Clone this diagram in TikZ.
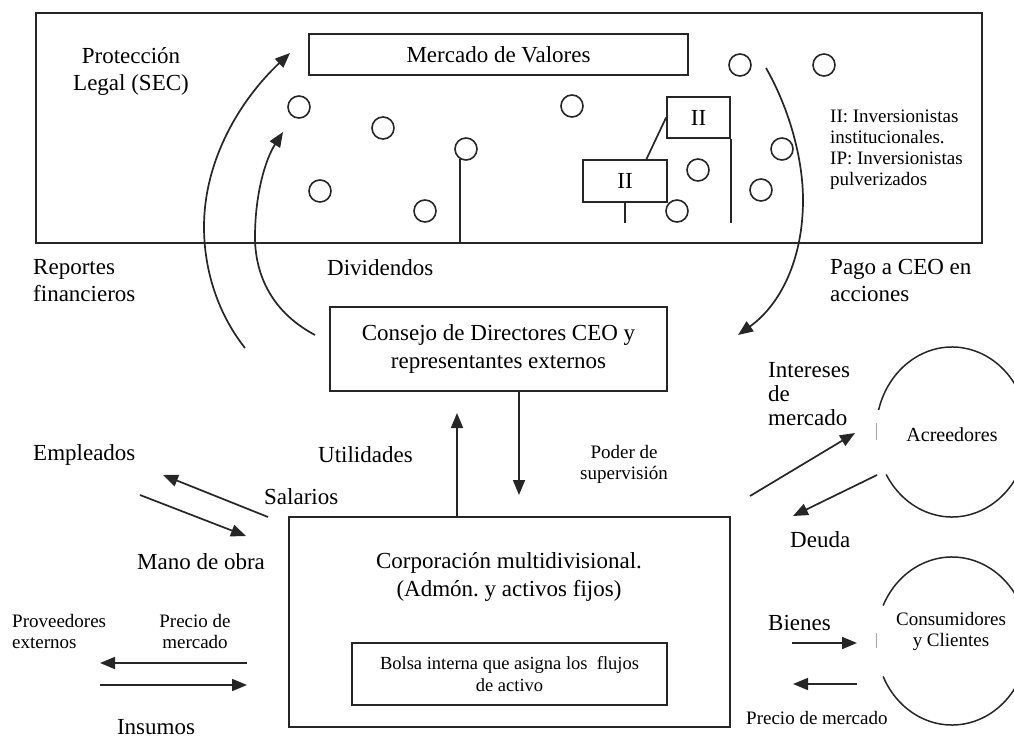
\documentclass[tikz,border=0pt]{standalone}
\usepackage{fontspec}
\setmainfont{Liberation Serif}
\usetikzlibrary{arrows.meta,calc}
\frenchspacing
\begin{document}
\begin{tikzpicture}[x=1pt,y=-1pt,
  big/.style={font=\fontsize{23}{27}\selectfont},
  small/.style={font=\fontsize{19}{21}\selectfont},
  box/.style={draw=black!85, line width=1.8pt, inner sep=0pt, align=center},
  txt/.style={inner sep=0pt, align=left, anchor=west},
  ctxt/.style={inner sep=0pt, align=center},
  dot/.style={draw=black!85, circle, minimum size=22pt, inner sep=0pt, line width=1.6pt},
  arr/.style={-{Triangle[length=15pt,width=12pt]}, line width=1.7pt, black!85},
  ln/.style={line width=1.7pt, black!85},
  oval/.style={line width=1.5pt, black!85}
]
\useasboundingbox (0,0) rectangle (1014,738);

% ---------- stock market frame ----------
\node[box, minimum width=946pt, minimum height=230pt] (frame) at (509,128) {};
\node[box, big, minimum width=379pt, minimum height=41pt] (mercado) at (498.5,54.5) {Mercado de Valores};
\node[ctxt, big] (sec) at (131,71) {Protección\\Legal (SEC)};

% circles (investors)
\node[dot] (c1) at (299,107) {};
\node[dot] (c2) at (383,128) {};
\node[dot] (c3) at (466,149) {};
\node[dot] (c4) at (320,191) {};
\node[dot] (c5) at (425,211) {};
\node[dot] (c6) at (572,106) {};
\node[dot] (c7) at (740,65) {};
\node[dot] (c8) at (824,65) {};
\node[dot] (c9) at (782,149) {};
\node[dot] (c10) at (698,170) {};
\node[dot] (c11) at (761,190) {};
\node[dot] (c12) at (677,211) {};

% institutional investors
\node[box, big, minimum width=63pt, minimum height=41pt] (ii1) at (698.5,117.5) {II};
\node[box, big, minimum width=84pt, minimum height=42pt] (ii2) at (625,181) {II};
\draw[ln] ($(ii2.north west)!0.75!(ii2.north east)$) -- (ii1.west);
\draw[ln] (ii2.south) -- ++(0,20);
\draw[ln] (ii1.south east) -- ++(0,84);
\draw[ln] (c3.240) -- (c3.240 |- frame.south);

\node[txt, small] (legend) at (830,149.5) {II: Inversionistas\\institucionales.\\IP: Inversionistas\\pulverizados};

% ---------- curved flows ----------
\coordinate (repS) at (245,348);
\coordinate (repE) at (290,53);
\coordinate (divS) at (315,335);
\coordinate (divE) at (283,132);
\coordinate (ceoS) at (766,68);
\coordinate (ceoE) at (738,335);
\draw[arr] (repS) .. controls (215,310) and (204,265) .. (204,227) .. controls (204,160) and (240,100) .. (repE);
\draw[arr] (divS) .. controls (268,310) and (255,270) .. (255,237) .. controls (255,195) and (265,160) .. (divE);
\draw[arr] (ceoS) .. controls (790,110) and (803,160) .. (803,200) .. controls (803,260) and (780,305) .. (ceoE);

\node[txt, big] (reportes) at (33,281) {Reportes\\financieros};
\node[txt, big] (dividendos) at (327,268) {Dividendos};
\node[txt, big] (pago) at (830,280) {Pago a CEO en\\acciones};

% ---------- board ----------
\node[box, big, minimum width=337pt, minimum height=84pt, font=\fontsize{23}{28}\selectfont] (consejo) at (498.5,349) {Consejo de Directores CEO y\\representantes externos};

% ---------- corporation ----------
\node[box, minimum width=441pt, minimum height=210pt] (corp) at (509.5,622) {};
\node[ctxt, big, font=\fontsize{23}{28}\selectfont] (corptext) at (509,577) {Corporación multidivisional.\\(Admón. y activos fijos)};
\node[box, small, minimum width=315pt, minimum height=62pt, font=\fontsize{18.5}{22}\selectfont] (bolsa) at (509.5,674) {Bolsa interna que asigna los\ \ flujos\\de activo};

\coordinate (uTip) at (457,413);
\coordinate (pTip) at (519,495);
\draw[arr] (uTip |- corp.north) -- (uTip);
\draw[arr] (pTip |- consejo.south) -- (pTip);
\node[txt, big] (utilidades) at (318,455) {Utilidades};
\node[ctxt, small] (poder) at (624,464) {Poder de\\supervisión};

% ---------- employees ----------
\node[txt, big] (empleados) at (33,455) {Empleados};
\node[txt, big] (salarios) at (264,497) {Salarios};
\node[txt, big] (mano) at (137,562) {Mano de obra};
\coordinate (salS) at (268,517);
\coordinate (salE) at (163,475);
\coordinate (manS) at (140,495);
\coordinate (manE) at (246,536);
\draw[arr] (salS) -- (salE);
\draw[arr] (manS) -- (manE);

% ---------- suppliers ----------
\node[txt, small] (prov) at (12,631) {Proveedores\\externos};
\node[ctxt, small] (precioL) at (195,631) {Precio de\\mercado};
\node[ctxt, big] (insumos) at (156,727) {Insumos};
\coordinate (pl1) at (247,663);
\coordinate (pl2) at (100,663);
\coordinate (il1) at (100,685);
\coordinate (il2) at (247,685);
\draw[arr] (pl1) -- (pl2);
\draw[arr] (il1) -- (il2);

% ---------- creditors and customers ----------
\begin{scope}
\clip (0,0) rectangle (1014,738);
\coordinate (acC) at (952,432);
\coordinate (coC) at (952,641);
\draw[oval] ($(acC)+(165:76pt and 85pt)$) arc[start angle=165, end angle=-150, x radius=76pt, y radius=85pt];
\draw[oval] ($(coC)+(155:76pt and 84pt)$) arc[start angle=155, end angle=-155, x radius=76pt, y radius=84pt];
\draw[line width=1pt, black!35] (876,423) -- (876,440);
\draw[line width=1pt, black!35] (876,633) -- (876,648);
\end{scope}
\node[ctxt, font=\fontsize{20}{22}\selectfont] (acre) at (952,435) {Acreedores};
\node[ctxt, small] (consum) at (951,631) {Consumidores\\y Clientes};

\node[txt, big, font=\fontsize{23}{24}\selectfont] (intereses) at (768,394) {Intereses\\de\\mercado};
\node[txt, big] (deuda) at (790,540) {Deuda};
\node[txt, big] (bienes) at (768,623) {Bienes};
\node[txt, small] (precioR) at (746,718) {Precio de mercado};

\coordinate (intS) at (750,496);
\coordinate (intE) at (855,433);
\coordinate (deuS) at (877,475);
\coordinate (deuE) at (793,516);
\coordinate (bieS) at (792,643);
\coordinate (bieE) at (857,643);
\coordinate (preS) at (857,684);
\coordinate (preE) at (793,684);
\draw[arr] (intS) -- (intE);
\draw[arr] (deuS) -- (deuE);
\draw[arr] (bieS) -- (bieE);
\draw[arr] (preS) -- (preE);
\end{tikzpicture}
\end{document}
